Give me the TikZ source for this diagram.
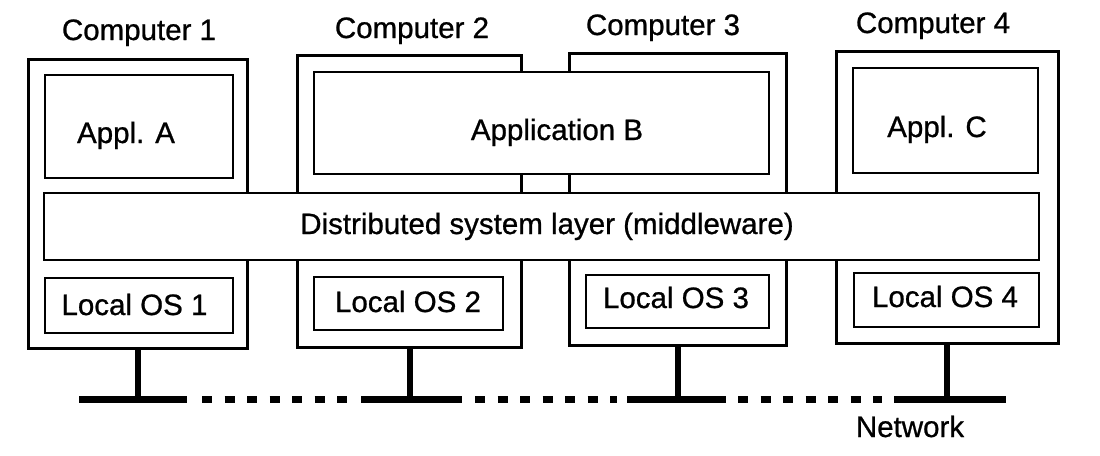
\documentclass[tikz,border=0pt]{standalone}
\usepackage{fontspec}
\setmainfont{Liberation Sans}[FakeBold=0.8]
\begin{document}
\begin{tikzpicture}[x=1pt,y=-1pt,
  comp/.style={draw, line width=3pt, inner sep=0pt, outer sep=0pt},
  inbox/.style={draw, fill=white, line width=2.5pt, inner sep=0pt, outer sep=0pt},
  txt/.style={anchor=base, inner sep=0pt, font=\fontsize{29.5}{34}\selectfont},
  stem/.style={line width=6pt},
  netsolid/.style={line width=7pt},
  netdash/.style={line width=7pt, dash pattern=on 10pt off 12.5pt}]
\useasboundingbox (0,0) rectangle (1100,455);
% computers
\node[comp, minimum width=219pt, minimum height=289pt] (c1) at (137.5,203.5) {};
\node[comp, minimum width=224pt, minimum height=292pt] (c2) at (409.5,201) {};
\node[comp, minimum width=217pt, minimum height=292pt] (c3) at (677.5,199) {};
\node[comp, minimum width=222pt, minimum height=292pt] (c4) at (947,197) {};
% inner boxes
\node[inbox, minimum width=188pt, minimum height=103pt] (appa) at (139,126.5) {};
\node[inbox, minimum width=455pt, minimum height=102pt] (appb) at (541.5,123) {};
\node[inbox, minimum width=185pt, minimum height=105pt] (appc) at (945.5,120.5) {};
\node[inbox, minimum width=995pt, minimum height=67pt] (mw) at (541.5,226.5) {};
\node[inbox, minimum width=188pt, minimum height=55pt] (os1) at (139,305.5) {};
\node[inbox, minimum width=189pt, minimum height=53pt] (os2) at (408.5,303.5) {};
\node[inbox, minimum width=183pt, minimum height=53pt] (os3) at (677.5,301.5) {};
\node[inbox, minimum width=185pt, minimum height=54pt] (os4) at (946.5,300) {};
% texts
\node[txt] (l1) at (139,40) {Computer 1};
\node[txt] (l2) at (412,38) {Computer 2};
\node[txt] (l3) at (663,35) {Computer 3};
\node[txt] (l4) at (933,33) {Computer 4};
\node[txt] (ta) at (126,143) {Appl. A};
\node[txt] (tb) at (557,140) {Application B};
\node[txt] (tc) at (937,137) {Appl. C};
\node[txt] (tm) at (547,234) {Distributed system layer (middleware)};
\node[txt] (t1) at (134.5,315) {Local OS 1};
\node[txt] (t2) at (408,312) {Local OS 2};
\node[txt] (t3) at (676,308) {Local OS 3};
\node[txt] (t4) at (945,307) {Local OS 4};
\node[txt] (tn) at (910,437) {Network};
% network
\coordinate (ns) at (79,399);
\coordinate (ne) at (1006,399);
\coordinate (n1) at (137.5,399);
\coordinate (n2) at (409.5,399);
\coordinate (n3) at (677.5,399);
\coordinate (n4) at (947,399);
\draw[netsolid] (ns) -- (187,399);
\draw[netdash] (202,399) -- (350,399);
\draw[netsolid] (361,399) -- (462,399);
\draw[netdash] (475,399) -- (617,399);
\draw[netsolid] (627,399) -- (726,399);
\draw[netdash] (738,399) -- (882,399);
\draw[netsolid] (894,399) -- (ne);
% stems
\draw[stem] (c1.south) -- (n1);
\draw[stem] (c2.south) -- (n2);
\draw[stem] (c3.south) -- (n3);
\draw[stem] (c4.south) -- (n4);
\end{tikzpicture}
\end{document}
